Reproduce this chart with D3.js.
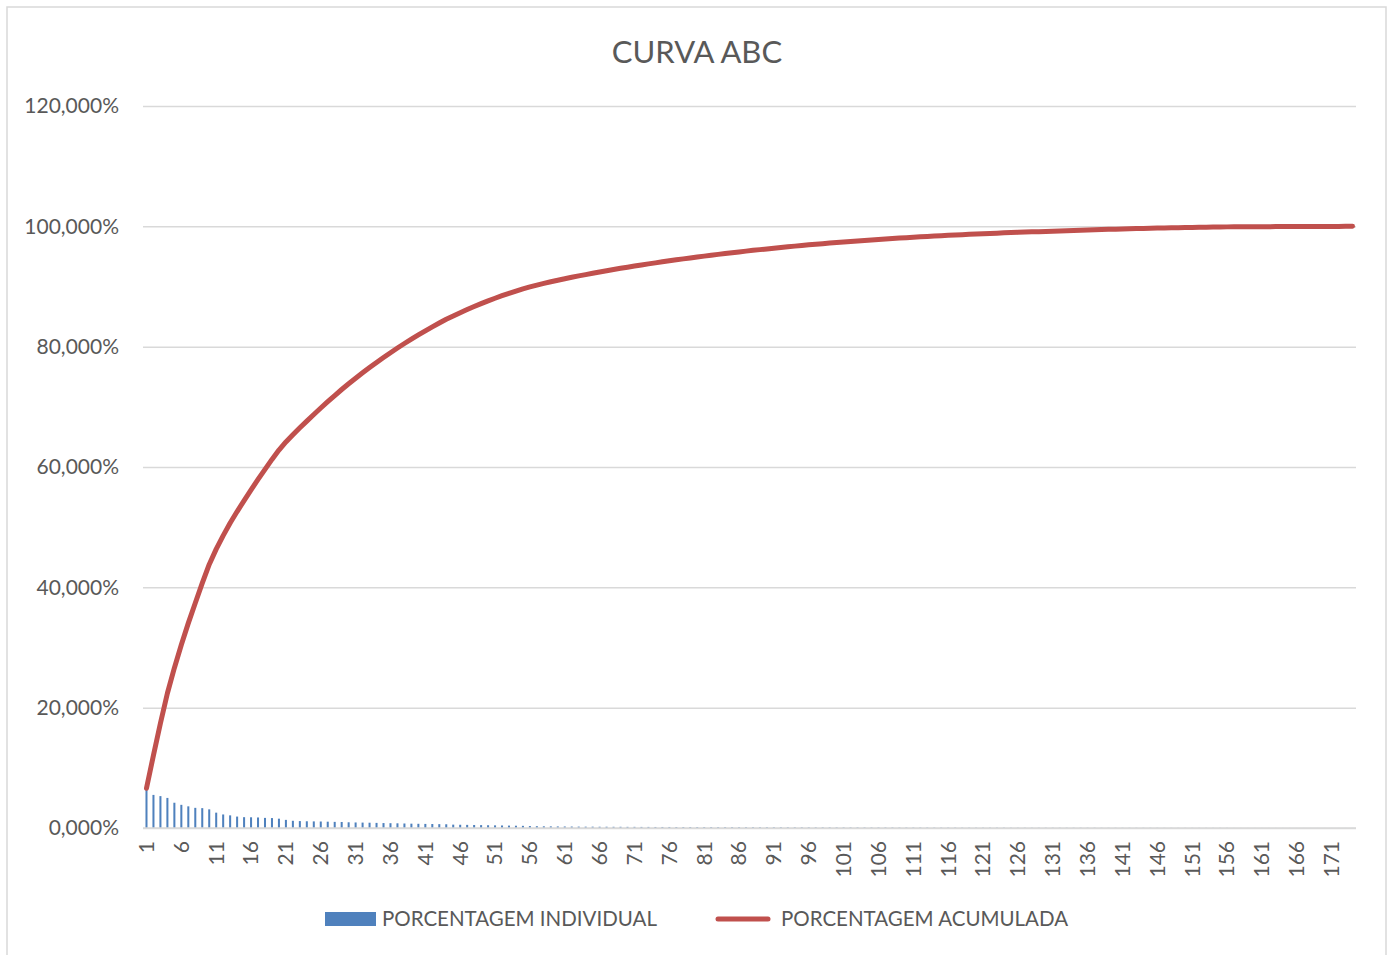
<!DOCTYPE html>
<html>
<head>
<meta charset="utf-8">
<script src="https://cdn.jsdelivr.net/npm/d3@7"></script>
<style>
  body { margin: 0; background: #fff; }
  svg { font-family: Lato, "Liberation Sans", sans-serif; }
</style>
</head>
<body>
<div id="chart"></div>
<script>
// individual percentage per item
var individual = [
  6.6, 5.5, 5.3, 5.0, 4.2, 3.85, 3.6, 3.35, 3.3, 3.1,
  2.55, 2.25, 2.1, 1.9, 1.8, 1.78, 1.75, 1.68, 1.65, 1.55,
  1.35, 1.2, 1.15, 1.12, 1.1, 1.08, 1.05, 1.02, 1.0, 0.95,
  0.92, 0.9, 0.88, 0.85, 0.82, 0.8, 0.78, 0.75, 0.72, 0.7,
  0.68, 0.66, 0.64, 0.62, 0.56, 0.54, 0.52, 0.5, 0.48, 0.46,
  0.44, 0.42, 0.4, 0.38, 0.36, 0.32, 0.3, 0.28, 0.27, 0.26,
  0.25, 0.24, 0.23, 0.22, 0.22, 0.21, 0.21, 0.2, 0.2, 0.19,
  0.19, 0.18, 0.18, 0.17, 0.17, 0.17, 0.16, 0.16, 0.16, 0.15,
  0.15, 0.15, 0.14, 0.14, 0.14, 0.13, 0.13, 0.13, 0.12, 0.12,
  0.12, 0.12, 0.11, 0.11, 0.11, 0.1, 0.1, 0.1, 0.1, 0.09,
  0.09, 0.09, 0.09, 0.08, 0.08, 0.08, 0.08, 0.08, 0.07, 0.07,
  0.07, 0.07, 0.07, 0.06, 0.06, 0.06, 0.06, 0.05, 0.05, 0.05,
  0.05, 0.05, 0.05, 0.05, 0.04, 0.04, 0.04, 0.04, 0.04, 0.04,
  0.04, 0.04, 0.04, 0.04, 0.04, 0.04, 0.04, 0.03, 0.03, 0.03,
  0.03, 0.03, 0.03, 0.03, 0.03, 0.03, 0.02, 0.02, 0.02, 0.02,
  0.02, 0.02, 0.02, 0.02, 0.02, 0.02, 0.006, 0.006, 0.006, 0.006,
  0.006, 0.006, 0.006, 0.006, 0.006, 0.004, 0.004, 0.004, 0.004, 0.004,
  0.004, 0.004, 0.004, 0.004
];

// accumulated percentage
var accumulated = [
  6.6, 12.1, 17.4, 22.4, 26.6, 30.45, 34.05, 37.4, 40.7, 43.8,
  46.35, 48.6, 50.7, 52.6, 54.4, 56.18, 57.93, 59.61, 61.26, 62.81,
  64.16, 65.36, 66.51, 67.63, 68.73, 69.81, 70.86, 71.88, 72.88, 73.83,
  74.75, 75.65, 76.53, 77.38, 78.2, 79.0, 79.78, 80.53, 81.25, 81.95,
  82.63, 83.29, 83.93, 84.55, 85.11, 85.65, 86.17, 86.67, 87.15, 87.61,
  88.05, 88.47, 88.87, 89.25, 89.61, 89.93, 90.23, 90.51, 90.78, 91.04,
  91.29, 91.53, 91.76, 91.98, 92.2, 92.41, 92.62, 92.82, 93.02, 93.21,
  93.4, 93.58, 93.76, 93.93, 94.1, 94.27, 94.43, 94.59, 94.75, 94.9,
  95.05, 95.2, 95.34, 95.48, 95.62, 95.75, 95.88, 96.01, 96.13, 96.25,
  96.37, 96.49, 96.6, 96.71, 96.82, 96.92, 97.02, 97.12, 97.22, 97.31,
  97.4, 97.49, 97.58, 97.66, 97.74, 97.82, 97.9, 97.98, 98.05, 98.12,
  98.19, 98.26, 98.33, 98.39, 98.45, 98.51, 98.57, 98.62, 98.67, 98.72,
  98.77, 98.82, 98.87, 98.92, 98.96, 99.0, 99.04, 99.08, 99.12, 99.16,
  99.2, 99.24, 99.28, 99.32, 99.36, 99.4, 99.44, 99.47, 99.5, 99.53,
  99.56, 99.59, 99.62, 99.65, 99.68, 99.71, 99.73, 99.75, 99.77, 99.79,
  99.81, 99.83, 99.85, 99.87, 99.89, 99.91, 99.916, 99.922, 99.928, 99.934,
  99.94, 99.946, 99.952, 99.958, 99.964, 99.968, 99.972, 99.976, 99.98, 99.984,
  99.988, 99.992, 99.996, 100.0
];

var categories = individual.map(function (d, i) { return i + 1; });
var xTickLabels = categories.filter(function (c) { return (c - 1) % 5 === 0; });
var yTicks = [0, 20, 40, 60, 80, 100, 120];
var seriesNames = ["PORCENTAGEM INDIVIDUAL", "PORCENTAGEM ACUMULADA"];

var w = 1394, h = 955;
var plotLeft = 143, plotRight = 1356, plotTop = 106, plotBottom = 828;
var textColor = "#595959";
var blue = "#4f81bd", red = "#c0504d";

var svg = d3.select("#chart").append("svg")
  .attr("width", w)
  .attr("height", h);

// chart frame
svg.append("rect")
  .attr("x", 7).attr("y", 7)
  .attr("width", 1379).attr("height", 960)
  .attr("fill", "#fff")
  .attr("stroke", "#d9d9d9")
  .attr("stroke-width", 1.5);

svg.append("text")
  .attr("x", 697).attr("y", 63)
  .attr("text-anchor", "middle")
  .attr("font-size", "31px")
  .attr("fill", textColor)
  .text("CURVA ABC");

var x = d3.scaleBand()
  .domain(categories)
  .range([plotLeft, plotRight])
  .paddingInner(0.71)
  .paddingOuter(0.355);

var y = d3.scaleLinear()
  .domain([0, 120])
  .range([plotBottom, plotTop]);

var fmt = function (d) { return d3.format(".3f")(d).replace(".", ",") + "%"; };

// gridlines
var grid = svg.append("g")
  .attr("transform", "translate(" + plotLeft + ",0)")
  .call(d3.axisLeft(y).tickValues(yTicks).tickSize(-(plotRight - plotLeft)).tickFormat(""));
grid.select(".domain").remove();
grid.selectAll("line").attr("stroke", "#d9d9d9").attr("stroke-width", 1.5);

// y labels
var yAxis = svg.append("g")
  .attr("transform", "translate(" + plotLeft + ",0)")
  .call(d3.axisLeft(y).tickValues(yTicks).tickSize(0).tickPadding(24).tickFormat(fmt));
yAxis.select(".domain").remove();
yAxis.selectAll("text")
  .attr("font-family", "Lato, 'Liberation Sans', sans-serif")
  .attr("font-size", "21px")
  .attr("fill", textColor);

// bars
svg.selectAll(".bar")
  .data(individual)
  .enter()
  .append("rect")
  .attr("class", "bar")
  .attr("x", function (d, i) { return x(categories[i]); })
  .attr("y", function (d) { return y(d); })
  .attr("width", x.bandwidth())
  .attr("height", function (d) { return plotBottom - y(d); })
  .attr("fill", blue);

// x axis
var xAxis = svg.append("g")
  .attr("transform", "translate(0," + plotBottom + ")")
  .call(d3.axisBottom(x).tickValues(xTickLabels).tickSize(0).tickPadding(0));
xAxis.select(".domain")
  .attr("stroke", "#d9d9d9")
  .attr("stroke-width", 1.5)
  .attr("d", "M" + plotLeft + ",0H" + plotRight);
xAxis.selectAll("text")
  .attr("font-family", "Lato, 'Liberation Sans', sans-serif")
  .attr("font-size", "21px")
  .attr("fill", textColor)
  .attr("text-anchor", "end")
  .attr("transform", "rotate(-90)")
  .attr("x", -13)
  .attr("y", 0)
  .attr("dy", "0.35em");

// accumulated line
var line = d3.line()
  .x(function (d, i) { return x(categories[i]) + x.bandwidth() / 2; })
  .y(function (d) { return y(d); });

svg.append("path")
  .datum(accumulated)
  .attr("d", line)
  .attr("fill", "none")
  .attr("stroke", red)
  .attr("stroke-width", 5)
  .attr("stroke-linecap", "round")
  .attr("stroke-linejoin", "round");

// legend
var legend = svg.append("g");
legend.append("rect")
  .attr("x", 325).attr("y", 912)
  .attr("width", 51).attr("height", 14)
  .attr("fill", blue);
legend.append("text")
  .attr("x", 382).attr("y", 919)
  .attr("dy", "0.35em")
  .attr("font-size", "20.5px")
  .attr("fill", textColor)
  .text(seriesNames[0]);
legend.append("line")
  .attr("x1", 718).attr("x2", 768)
  .attr("y1", 919).attr("y2", 919)
  .attr("stroke", red)
  .attr("stroke-width", 5)
  .attr("stroke-linecap", "round");
legend.append("text")
  .attr("x", 781).attr("y", 919)
  .attr("dy", "0.35em")
  .attr("font-size", "20.5px")
  .attr("fill", textColor)
  .text(seriesNames[1]);
</script>
</body>
</html>
